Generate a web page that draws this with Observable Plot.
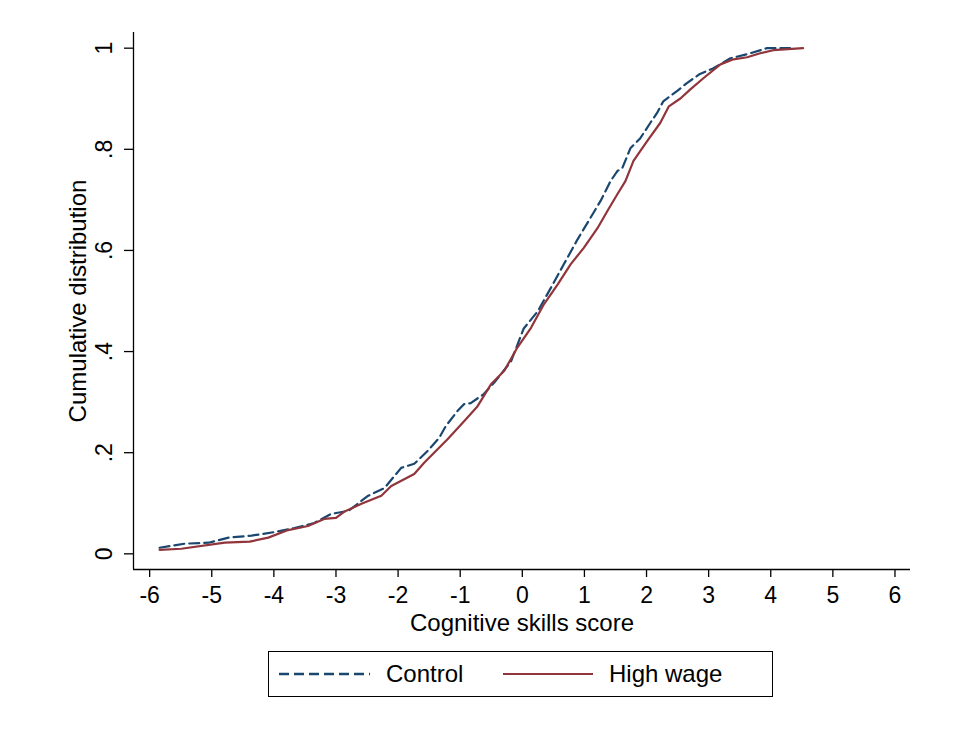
<!DOCTYPE html>
<html>
<head>
<meta charset="utf-8">
<script src="https://cdn.jsdelivr.net/npm/d3@7"></script>
<script src="https://cdn.jsdelivr.net/npm/@observablehq/plot@0.6"></script>
<style>
  html, body { margin: 0; padding: 0; background: #fff; }
  body { width: 969px; height: 731px; position: relative; overflow: hidden; font-family: "Liberation Sans", Arial, Helvetica, sans-serif; }
  #chart { position: absolute; left: 0; top: 0; }
  #legend { position: absolute; left: 268px; top: 651px; width: 505px; height: 46px; border: 1.2px solid #000; box-sizing: border-box; }
</style>
</head>
<body>
<div id="chart"></div>
<div id="legend"></div>
<script>
// ---- data ----
const seriesNames = ["Control", "High wage"];
const controlX = [-5.84, -5.44, -5.05, -4.73, -4.36, -3.99, -3.67, -3.35, -3.08, -2.8, -2.48, -2.22, -1.95, -1.74, -1.52, -1.34, -1.23, -1.04, -0.94, -0.83, -0.62, -0.43, -0.18, 0.02, 0.25, 0.46, 0.67, 0.89, 1.1, 1.26, 1.42, 1.53, 1.61, 1.74, 1.9, 2.06, 2.17, 2.27, 2.49, 2.65, 2.86, 3.07, 3.35, 3.62, 3.94, 4.31];
const controlY = [0.012, 0.02, 0.022, 0.032, 0.036, 0.043, 0.051, 0.061, 0.079, 0.085, 0.115, 0.13, 0.17, 0.178, 0.204, 0.229, 0.253, 0.283, 0.296, 0.298, 0.316, 0.342, 0.381, 0.445, 0.48, 0.526, 0.573, 0.622, 0.665, 0.698, 0.737, 0.757, 0.763, 0.802, 0.822, 0.852, 0.872, 0.895, 0.915, 0.931, 0.949, 0.96, 0.98, 0.988, 1.0, 1.0];
const highX = [-5.84, -5.49, -4.79, -4.39, -4.09, -3.77, -3.45, -3.19, -3.0, -2.87, -2.59, -2.27, -2.11, -1.74, -1.58, -1.2, -0.93, -0.72, -0.5, -0.29, -0.08, 0.14, 0.35, 0.57, 0.78, 0.99, 1.21, 1.37, 1.53, 1.66, 1.79, 2.01, 2.22, 2.36, 2.55, 2.71, 2.92, 3.19, 3.4, 3.62, 3.83, 4.04, 4.52];
const highY = [0.008, 0.010, 0.022, 0.024, 0.032, 0.047, 0.055, 0.069, 0.071, 0.083, 0.099, 0.115, 0.134, 0.158, 0.18, 0.227, 0.263, 0.292, 0.336, 0.362, 0.408, 0.447, 0.494, 0.533, 0.573, 0.605, 0.644, 0.678, 0.711, 0.737, 0.777, 0.816, 0.852, 0.885, 0.901, 0.919, 0.941, 0.968, 0.978, 0.982, 0.99, 0.996, 1.0];
const xTicks = [-6, -5, -4, -3, -2, -1, 0, 1, 2, 3, 4, 5, 6];
const yTicks = [0, 0.2, 0.4, 0.6, 0.8, 1];
const yTickLabels = ["0", ".2", ".4", ".6", ".8", "1"];
const xTitle = "Cognitive skills score";
const yTitle = "Cumulative distribution";

const xDomain = [-6.26, 6.25];
const yDomain = [-0.031, 1.031];
const colors = {"Control": "#1a476f", "High wage": "#90353b"};
const FONT = '"Liberation Sans", Arial, Helvetica, sans-serif';

const control = controlX.map((x, i) => ({x, y: controlY[i]}));
const high = highX.map((x, i) => ({x, y: highY[i]}));
const yLab = yTicks.map((v, i) => ({v, t: yTickLabels[i]}));

const plot = Plot.plot({
  width: 969,
  height: 640,
  marginLeft: 133,
  marginRight: 59,
  marginTop: 32,
  marginBottom: 71,
  style: {fontFamily: FONT, background: "#fff", color: "#000"},
  x: {domain: xDomain},
  y: {domain: yDomain},
  marks: [
    Plot.ruleX([xDomain[0]], {stroke: "#000", strokeWidth: 1.3}),
    Plot.ruleY([yDomain[0]], {stroke: "#000", strokeWidth: 1.3}),
    Plot.axisX({ticks: xTicks, tickSize: 8, tickPadding: 9, fontSize: 23, label: null, tickFormat: d => String(d), stroke: "#000", strokeWidth: 1.3}),
    Plot.axisY({ticks: yTicks, tickSize: 9, label: null, tickFormat: () => "", stroke: "#000", strokeWidth: 1.3}),
    Plot.text(yLab, {y: "v", text: "t", frameAnchor: "left", dx: -29, rotate: -90, textAnchor: "middle", lineAnchor: "middle", fontSize: 23, fill: "#000"}),
    Plot.text([xTitle], {frameAnchor: "bottom", dy: 54, lineAnchor: "middle", textAnchor: "middle", fontSize: 24, fill: "#000"}),
    Plot.text([yTitle], {frameAnchor: "left", dx: -55, rotate: -90, textAnchor: "middle", lineAnchor: "middle", fontSize: 24, fill: "#000"}),
    Plot.line(control, {x: "x", y: "y", stroke: colors["Control"], strokeWidth: 2.2, strokeDasharray: "10,5"}),
    Plot.line(high, {x: "x", y: "y", stroke: colors["High wage"], strokeWidth: 2.2})
  ]
});
document.getElementById("chart").appendChild(plot);

// legend
const legend = d3.select("#legend").append("svg").attr("width", 505).attr("height", 46)
  .style("position", "absolute").style("left", "-1px").style("top", "-1px")
  .style("font-family", FONT);
legend.append("line").attr("x1", 11).attr("x2", 102).attr("y1", 23).attr("y2", 23)
  .attr("stroke", colors["Control"]).attr("stroke-width", 2.4).attr("stroke-dasharray", "10,5");
legend.append("text").attr("x", 118).attr("y", 23).attr("dy", "0.35em").attr("font-size", 24).text(seriesNames[0]);
legend.append("line").attr("x1", 235).attr("x2", 325).attr("y1", 23).attr("y2", 23)
  .attr("stroke", colors["High wage"]).attr("stroke-width", 2.2);
legend.append("text").attr("x", 341).attr("y", 23).attr("dy", "0.35em").attr("font-size", 24).text(seriesNames[1]);
</script>
</body>
</html>
